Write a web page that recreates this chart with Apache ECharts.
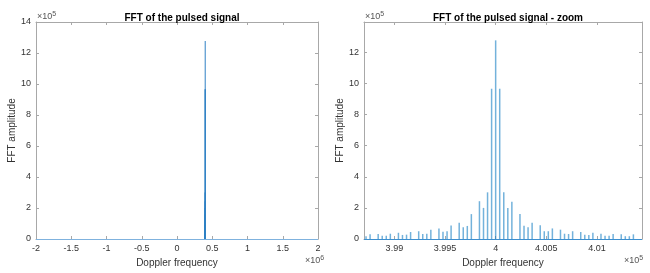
<!DOCTYPE html>
<html>
<head>
<meta charset="utf-8">
<script src="https://cdn.jsdelivr.net/npm/echarts@6/dist/echarts.min.js"></script>
<style>
  html, body { margin: 0; padding: 0; background: #fff; }
  #chart { width: 650px; height: 273px; }
</style>
</head>
<body>
<div id="chart"></div>
<script>
// spectral lines (Hz, amplitude)
var freqs = [
  398720, 398760, 398840, 398880, 398920, 398960, 399040, 399080, 399120, 399160,
  399240, 399280, 399320, 399360, 399440, 399480, 399520, 399560, 399640, 399680,
  399720, 399760, 399840, 399880, 399920, 399960, 400000, 400040, 400080, 400120,
  400160, 400240, 400280, 400320, 400360, 400440, 400480, 400520, 400560, 400640,
  400680, 400720, 400760, 400840, 400880, 400920, 400960, 401040, 401080, 401120,
  401160, 401240, 401280, 401320, 401360
];
var amps = [
  17000, 30000, 32000, 21000, 21000, 34000, 40000, 26000, 28000, 45000,
  50000, 32000, 34000, 60000, 68000, 47000, 50000, 86000, 105000, 75000,
  84000, 160000, 243000, 200000, 300000, 966000, 1277000, 966000, 300000, 200000,
  240000, 160000, 85000, 75000, 105000, 88000, 50000, 50000, 68000, 60000,
  34000, 32000, 50000, 45000, 28000, 26000, 40000, 34000, 21000, 21000,
  32000, 30000, 18000, 18000, 30000
];

var fullRange = [-2e6, 2e6];
var zoomRange = [398700, 401445];
var ampFullMax = 1.4e6;
var ampZoomMax = 1.395e6;

var lineData = freqs.map(function (f, i) { return [f, amps[i]]; });

var txt = '#333';
var boxCol = '#a8a8a8';
var font = '"Liberation Sans", Arial, sans-serif';

function fmtX(div, step) {
  return function (v) {
    if (Math.abs(Math.round(v / step) * step - v) > 1e-6) return '';
    return String(+(v / div).toFixed(4));
  };
}
function fmtY(v) {
  if (v % 200000 !== 0) return '';
  return String(v / 1e5);
}

function xAx(grid, range, pos, opts) {
  var a = {
    type: 'value', gridIndex: grid, position: pos,
    min: range[0], max: range[1],
    axisLine: { onZero: false, lineStyle: { color: boxCol, width: 1 } },
    axisTick: { inside: true, length: 3, lineStyle: { color: boxCol } },
    splitLine: { show: false },
    axisLabel: { show: false }
  };
  for (var k in opts) a[k] = opts[k];
  return a;
}
function yAx(grid, max, pos, opts) {
  var a = {
    type: 'value', gridIndex: grid, position: pos,
    min: 0, max: max, interval: 200000,
    axisLine: { show: true, onZero: false, lineStyle: { color: boxCol, width: 1 } },
    axisTick: { show: true, inside: true, length: 3, lineStyle: { color: boxCol } },
    splitLine: { show: false },
    axisLabel: { show: false }
  };
  for (var k in opts) a[k] = opts[k];
  return a;
}

var nameStyle = { color: txt, fontSize: 10, fontFamily: font };
var labelStyle = { show: true, color: txt, fontSize: 9, fontFamily: font, margin: 5 };

var option = {
  animation: false,
  backgroundColor: '#fff',
  title: [
    { text: 'FFT of the pulsed signal', left: 177, top: 8, textAlign: 'center',
      textStyle: { fontSize: 10, fontWeight: 'bold', color: '#000', fontFamily: font } },
    { text: 'FFT of the pulsed signal - zoom', left: 503, top: 8, textAlign: 'center',
      textStyle: { fontSize: 10, fontWeight: 'bold', color: '#000', fontFamily: font } }
  ],
  grid: [
    { left: 36, right: 332, top: 22, bottom: 34 },
    { left: 364, right: 8, top: 22, bottom: 34 }
  ],
  xAxis: [
    xAx(0, fullRange, 'bottom', {
      interval: 500000,
      axisLabel: Object.assign({}, labelStyle, { formatter: fmtX(1e6, 500000) }),
      name: 'Doppler frequency', nameLocation: 'middle', nameGap: 13, nameTextStyle: nameStyle
    }),
    xAx(0, fullRange, 'top', { interval: 500000 }),
    xAx(1, zoomRange, 'bottom', {
      splitNumber: 5,
      axisLabel: Object.assign({}, labelStyle, { formatter: fmtX(1e5, 500) }),
      name: 'Doppler frequency', nameLocation: 'middle', nameGap: 13, nameTextStyle: nameStyle
    }),
    xAx(1, zoomRange, 'top', { splitNumber: 5 })
  ],
  yAxis: [
    yAx(0, ampFullMax, 'left', {
      axisLabel: Object.assign({}, labelStyle, { formatter: fmtY }),
      name: 'FFT amplitude', nameLocation: 'middle', nameGap: 13, nameTextStyle: nameStyle
    }),
    yAx(0, ampFullMax, 'right', {}),
    yAx(1, ampZoomMax, 'left', {
      axisLabel: Object.assign({}, labelStyle, { formatter: fmtY, showMaxLabel: false }),
      name: 'FFT amplitude', nameLocation: 'middle', nameGap: 13, nameTextStyle: nameStyle
    }),
    yAx(1, ampZoomMax, 'right', {})
  ],
  graphic: [
    { type: 'text', left: 37, top: 11, style: { text: '×10{s|5}', fill: '#555', font: '9px ' + font,
      rich: { s: { fontSize: 7, verticalAlign: 'top', padding: [0, 0, 5, 0], fill: '#555' } } } },
    { type: 'text', left: 365, top: 11, style: { text: '×10{s|5}', fill: '#555', font: '9px ' + font,
      rich: { s: { fontSize: 7, verticalAlign: 'top', padding: [0, 0, 5, 0], fill: '#555' } } } },
    { type: 'text', left: 305, top: 255, style: { text: '×10{s|6}', fill: '#555', font: '9px ' + font,
      rich: { s: { fontSize: 7, verticalAlign: 'top', padding: [0, 0, 5, 0], fill: '#555' } } } },
    { type: 'text', left: 624, top: 255, style: { text: '×10{s|5}', fill: '#555', font: '9px ' + font,
      rich: { s: { fontSize: 7, verticalAlign: 'top', padding: [0, 0, 5, 0], fill: '#555' } } } }
  ],
  series: [
    {
      name: 'full', type: 'bar', xAxisIndex: 0, yAxisIndex: 0,
      barWidth: 1, data: lineData,
      itemStyle: { color: '#2f80c4' },
      markLine: {
        silent: true, symbol: 'none', label: { show: false },
        lineStyle: { color: '#7fb2de', width: 1, type: 'solid' },
        data: [{ yAxis: 0 }]
      }
    },
    {
      name: 'zoom', type: 'bar', xAxisIndex: 2, yAxisIndex: 2,
      barWidth: 1.5, data: lineData,
      itemStyle: { color: '#0072BD', opacity: 0.55 },
      markLine: {
        silent: true, symbol: 'none', label: { show: false },
        lineStyle: { color: '#3d8fcf', width: 1, type: 'solid' },
        data: [{ yAxis: 0 }]
      }
    }
  ]
};

var chart = echarts.init(document.getElementById('chart'), null, { renderer: 'canvas' });
chart.setOption(option);
</script>
</body>
</html>
